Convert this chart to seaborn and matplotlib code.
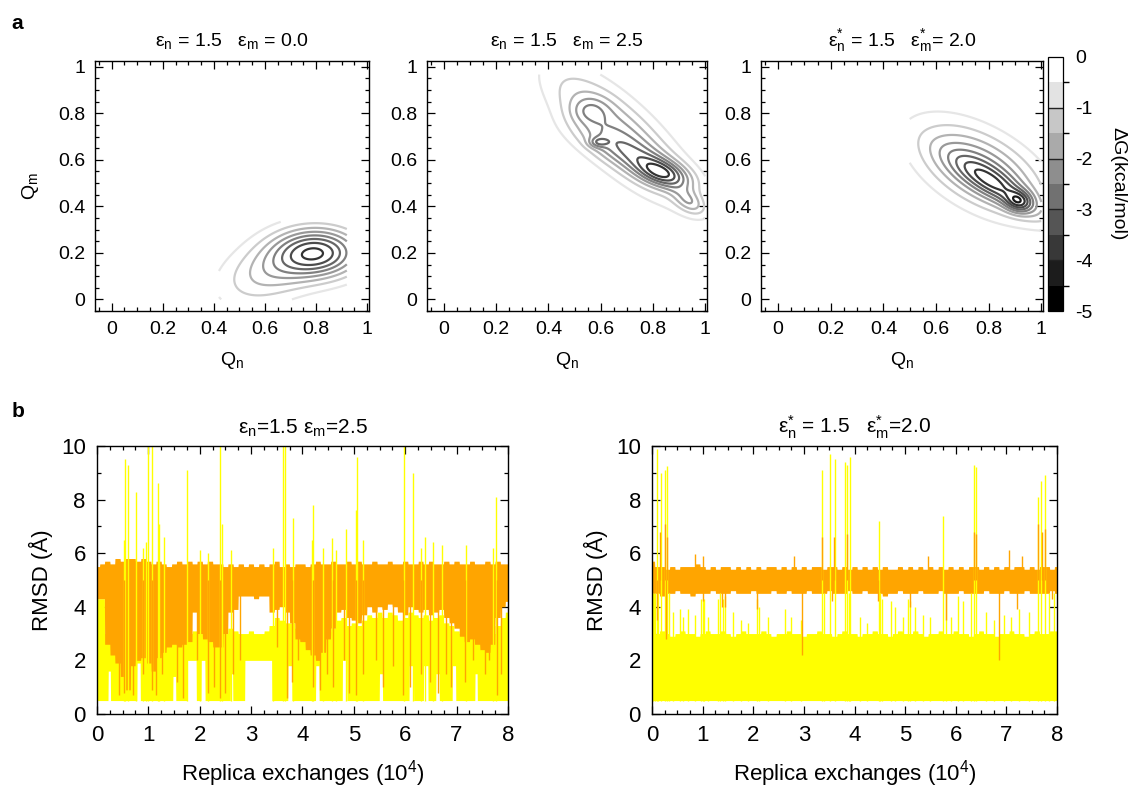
import numpy as np
import matplotlib
matplotlib.use('Agg')
import matplotlib.pyplot as plt
from matplotlib.colors import ListedColormap, BoundaryNorm, Normalize
from matplotlib.cm import ScalarMappable
from matplotlib.ticker import MultipleLocator
import seaborn as sns

sns.set_theme(style='ticks', rc={'axes.edgecolor': 'black', 'text.color': 'black',
                                 'axes.labelcolor': 'black', 'xtick.color': 'black',
                                 'ytick.color': 'black'})
plt.rcParams['font.family'] = ['Liberation Sans', 'DejaVu Sans']
plt.rcParams['mathtext.fontset'] = 'custom'
plt.rcParams['mathtext.rm'] = 'Liberation Sans'
plt.rcParams['mathtext.it'] = 'Liberation Sans:italic'

YELLOW = '#ffff00'
ORANGE = '#ffa500'

# ---------------- panel a : free energy basins (centre, depth, widths, tilt)
A_TITLES = ['ε$_\\mathregular{n}$ = 1.5   ε$_\\mathregular{m}$ = 0.0',
            'ε$_\\mathregular{n}$ = 1.5   ε$_\\mathregular{m}$ = 2.5',
            'ε$^{*}_\\mathregular{n}$ = 1.5   ε$^{*}_\\mathregular{m}$= 2.0']

b1_x = [0.81, 0.62]
b1_y = [0.20, 0.12]
b1_depth = [3.5, 1.6]
b1_sa = [0.12, 0.15]
b1_sb = [0.075, 0.09]
b1_ang = [0, 25]
b1_domain = [0.42, 0.92, 0.0, 0.335]

b2_x = [0.84, 0.94, 0.59, 0.555, 0.67, 0.70]
b2_y = [0.54, 0.42, 0.675, 0.81, 0.71, 0.63]
b2_depth = [2.4, 1.4, 1.0, 0.85, 2.3, 1.0]
b2_sa = [0.075, 0.05, 0.025, 0.05, 0.24, 0.15]
b2_sb = [0.038, 0.03, 0.015, 0.04, 0.085, 0.045]
b2_ang = [-22, -40, 0, 0, -47, -25]
b2_domain = [0.36, 1.0, 0.28, 0.97]

b3_x = [0.83, 0.915, 0.77]
b3_y = [0.49, 0.42, 0.56]
b3_depth = [1.9, 1.75, 2.6]
b3_sa = [0.14, 0.035, 0.19]
b3_sb = [0.04, 0.03, 0.10]
b3_ang = [-36, -20, -35]
b3_domain = [0.50, 1.0, 0.28, 0.82]

LINE_LEVELS = [-4.5, -4.0, -3.5, -3.0, -2.5, -2.0, -1.5, -1.0, -0.5]
CBAR_TICKS = [0, -1, -2, -3, -4, -5]

# ---------------- panel b : RMSD envelopes sampled every 0.1 (10^4 exchanges)
L_ORANGE_TOP = [5.5, 5.6, 5.7, 5.6, 5.8, 5.7, 5.8, 5.8, 5.7, 5.8,
                5.7, 5.6, 5.7, 5.6, 5.5, 5.6, 5.7, 5.6, 5.7, 5.6,
                5.7, 5.6, 5.7, 5.6, 5.6, 5.5, 5.6, 5.5, 5.6, 5.5,
                5.6, 5.5, 5.6, 5.5, 5.6, 5.7, 5.5, 5.6, 5.5, 5.6,
                5.6, 5.5, 5.6, 5.7, 5.6, 5.6, 5.7, 5.6, 5.6, 5.7,
                5.6, 5.7, 5.6, 5.6, 5.7, 5.6, 5.6, 5.7, 5.6, 5.6,
                5.7, 5.6, 5.6, 5.7, 5.6, 5.7, 5.6, 5.6, 5.7, 5.6,
                5.7, 5.6, 5.6, 5.7, 5.6, 5.6, 5.7, 5.6, 5.7, 5.6,
                5.6]
L_ORANGE_LOW = [4.3, 4.3, 2.6, 2.2, 1.9, 1.4, 0.9, 1.8, 2.0, 2.1,
                1.9, 1.6, 2.1, 2.3, 2.5, 2.6, 2.5, 2.6, 2.7, 3.8,
                3.0, 2.8, 2.7, 2.5, 2.5, 3.0, 3.8, 3.9, 4.4, 4.4,
                4.4, 4.3, 4.4, 4.4, 3.8, 3.9, 4.0, 3.8, 3.4, 2.8,
                2.7, 2.4, 2.2, 2.0, 2.3, 2.8, 3.2, 3.8, 3.9, 3.6,
                3.5, 3.4, 3.7, 4.0, 3.8, 4.0, 3.9, 4.1, 4.0, 3.8,
                3.7, 4.0, 3.9, 3.8, 3.9, 3.7, 3.8, 3.9, 3.6, 3.4,
                3.2, 2.9, 2.7, 2.8, 2.6, 2.4, 2.3, 2.6, 3.6, 4.0,
                4.2]
L_YELLOW_TOP = [4.3, 4.3, 3.0, 3.0, 3.0, 3.0, 3.0, 3.0, 3.0, 3.0,
                3.0, 3.0, 3.0, 3.0, 3.0, 3.0, 3.0, 3.0, 3.0, 3.1,
                3.0, 3.0, 3.0, 3.0, 3.0, 3.0, 3.2, 3.1, 3.0, 3.0,
                3.1, 3.0, 3.0, 3.1, 3.3, 3.6, 3.5, 3.4, 3.4, 3.2,
                3.0, 3.0, 3.0, 3.0, 3.0, 3.0, 3.2, 3.5, 3.6, 3.3,
                3.4, 3.3, 3.5, 3.7, 3.6, 3.8, 3.6, 3.8, 3.7, 3.5,
                3.6, 3.8, 3.7, 3.6, 3.7, 3.5, 3.6, 3.7, 3.4, 3.3,
                3.1, 3.0, 3.0, 3.0, 3.0, 3.0, 3.0, 3.0, 3.3, 3.6,
                3.8]
L_GAP_START = [0.22, 0.78, 1.48, 1.76, 2.03, 2.60, 2.88, 3.72, 4.26, 4.78,
               5.50, 6.08, 6.36, 6.60, 6.92, 7.36]
L_GAP_END = [0.26, 0.84, 1.53, 1.93, 2.10, 2.64, 3.40, 3.79, 4.32, 4.86,
             5.56, 6.16, 6.44, 6.66, 6.98, 7.40]
L_GAP_TOP = [1.6, 1.9, 1.4, 2.0, 2.0, 1.5, 2.0, 1.8, 1.8, 2.0,
             1.5, 1.8, 1.8, 1.5, 1.8, 1.5]
L_SPIKE_X = [0.55, 0.60, 0.76, 0.99, 1.07, 1.18, 1.21, 1.30, 1.75, 2.40,
             2.43, 3.63, 3.67, 3.82, 4.21, 4.84, 5.04, 5.07, 5.98, 6.15,
             7.77, 0.52, 0.90, 0.96, 2.00, 2.17, 2.60, 3.43, 4.18, 4.40,
             4.58, 4.66, 5.18, 6.30, 6.38, 6.55, 6.72, 7.19, 7.70]
L_SPIKE_TOP = [9.5, 9.3, 8.3, 10.0, 10.0, 8.6, 7.1, 6.6, 9.1, 10.0,
               7.1, 10.0, 10.0, 7.3, 7.8, 6.9, 7.6, 9.6, 10.0, 9.0,
               8.1, 6.5, 6.2, 6.4, 6.1, 6.0, 6.1, 6.2, 6.5, 6.2,
               6.55, 6.1, 6.5, 6.2, 6.6, 6.4, 6.3, 6.3, 6.2]
L_DIP_X = [0.42, 0.53, 0.70, 0.90, 1.08, 1.15, 1.26, 1.55, 1.67, 1.94,
           2.17, 2.27, 2.40, 2.50, 2.65, 2.78, 3.50, 3.69, 3.79, 3.92,
           4.21, 4.35, 4.47, 4.60, 4.80, 4.90, 5.04, 5.18, 5.44, 5.57,
           5.76, 5.96, 6.10, 6.30, 6.48, 6.64, 6.80, 6.90, 7.16, 7.32,
           7.55, 7.64, 7.78, 7.87]
L_DIP_LOW = [0.7, 0.8, 0.7, 1.5, 0.9, 0.7, 1.5, 1.2, 0.6, 2.0,
             0.8, 1.0, 0.6, 0.8, 1.5, 2.0, 2.5, 0.6, 1.2, 2.0,
             1.0, 0.9, 1.5, 1.0, 2.0, 0.8, 0.7, 1.5, 2.0, 1.0,
             1.8, 0.7, 1.0, 1.5, 1.2, 0.8, 1.5, 1.0, 1.2, 2.0,
             1.5, 2.0, 0.7, 1.5]

R_ORANGE_TOP = [5.7, 5.5, 5.5, 5.4, 5.5, 5.4, 5.5, 5.5, 5.5, 5.6,
                5.5, 5.4, 5.5, 5.4, 5.5, 5.5, 5.4, 5.5, 5.4, 5.5,
                5.4, 5.5, 5.4, 5.5, 5.5, 5.4, 5.5, 5.4, 5.5, 5.4,
                5.5, 5.4, 5.5, 5.5, 5.4, 5.5, 5.5, 5.4, 5.5, 5.4,
                5.5, 5.4, 5.5, 5.4, 5.5, 5.4, 5.5, 5.4, 5.4, 5.5,
                5.4, 5.5, 5.4, 5.5, 5.4, 5.5, 5.4, 5.5, 5.4, 5.5,
                5.4, 5.5, 5.4, 5.5, 5.5, 5.4, 5.5, 5.4, 5.5, 5.4,
                5.5, 5.4, 5.5, 5.5, 5.4, 5.5, 5.4, 5.5, 5.5, 5.4,
                5.5]
R_ORANGE_LOW = [4.5, 4.5, 4.4, 4.5, 4.5, 4.6, 4.5, 4.5, 4.4, 4.5,
                4.5, 4.5, 4.6, 4.5, 4.5, 4.5, 4.6, 4.5, 4.5, 4.5,
                4.6, 4.5, 4.5, 4.5, 4.6, 4.5, 4.5, 4.6, 4.5, 4.5,
                4.5, 4.6, 4.5, 4.5, 4.5, 4.6, 4.5, 4.5, 4.5, 4.6,
                4.5, 4.5, 4.6, 4.5, 4.5, 4.5, 4.4, 4.5, 4.5, 4.6,
                4.5, 4.5, 4.5, 4.6, 4.5, 4.5, 4.5, 4.6, 4.5, 4.5,
                4.5, 4.6, 4.5, 4.5, 4.5, 4.5, 4.6, 4.5, 4.5, 4.5,
                4.6, 4.5, 4.5, 4.5, 4.6, 4.5, 4.5, 4.5, 4.5, 4.6,
                4.5]
R_YELLOW_TOP = [4.5, 3.0, 3.1, 3.0, 2.9, 3.0, 3.1, 3.0, 3.0, 2.9,
                3.0, 3.1, 3.0, 3.0, 3.1, 3.0, 2.9, 3.0, 3.1, 3.0,
                3.0, 3.0, 3.1, 3.0, 2.9, 3.0, 3.0, 3.1, 3.0, 3.0,
                2.9, 3.0, 3.0, 3.1, 3.0, 3.0, 2.9, 3.0, 3.1, 3.0,
                3.0, 2.9, 3.0, 3.0, 3.1, 3.0, 3.0, 2.9, 3.0, 3.1,
                3.0, 3.0, 3.1, 3.0, 2.9, 3.0, 3.0, 3.1, 3.0, 3.0,
                3.1, 3.0, 3.0, 2.9, 3.0, 3.1, 3.0, 3.0, 2.9, 3.0,
                3.0, 3.1, 3.0, 3.0, 2.9, 3.0, 3.1, 3.0, 3.0, 3.1,
                3.1]
R_SPIKE_X = [0.09, 0.18, 0.25, 0.30, 3.36, 3.52, 3.61, 3.82, 3.85, 3.92,
             4.48, 5.75, 6.36, 6.40, 7.62, 7.68, 7.76,
             0.02, 0.05, 0.12, 0.33, 0.42, 0.55, 0.62, 0.72, 0.85, 0.97,
             1.00, 1.03, 1.10, 1.30, 1.35, 1.40, 1.45, 1.60, 1.75, 1.90,
             2.08, 2.12, 2.30, 2.62, 2.75, 2.95, 3.40, 3.90, 4.10, 4.25,
             4.50, 4.55, 4.72, 4.80, 4.95, 5.05, 5.10, 5.20, 5.35, 5.50,
             5.80, 5.90, 6.05, 6.15, 6.30, 6.60, 6.75, 6.95, 7.10, 7.25,
             7.45, 7.85, 7.95]
R_SPIKE_TOP = [9.9, 9.0, 9.1, 9.25, 9.1, 9.7, 9.5, 9.4, 9.3, 9.6,
               7.2, 7.4, 9.3, 9.2, 8.1, 8.7, 8.9,
               4.5, 4.5, 4.5, 4.5, 3.8, 3.9, 3.6, 3.9, 3.7, 4.3,
               4.3, 4.3, 3.6, 4.3, 4.5, 4.3, 4.4, 3.8, 3.5, 3.4,
               4.3, 4.0, 3.6, 3.9, 3.6, 3.5, 4.5, 4.5, 3.6, 3.4,
               4.5, 4.3, 4.2, 4.0, 3.6, 4.3, 4.2, 4.0, 3.7, 3.6,
               4.5, 3.6, 4.4, 4.2, 4.5, 3.8, 3.5, 3.7, 3.6, 3.9,
               3.8, 4.5, 4.5]
R_RISE_X = [0.15, 0.25, 0.30, 3.36, 3.60, 3.85, 6.36, 6.40, 7.62, 7.70,
            7.76, 0.85, 1.00, 2.80, 5.45, 7.05, 7.30]
R_RISE_TOP = [6.8, 7.1, 6.6, 6.6, 6.6, 6.7, 6.8, 6.7, 7.1, 6.8,
              6.9, 5.95, 5.9, 5.9, 5.9, 6.1, 5.9]
R_DIP_X = [0.27, 0.10, 1.00, 1.38, 1.45, 2.08, 2.97, 3.55, 4.47, 5.10,
           5.80, 6.85, 7.20, 7.90]
R_DIP_LOW = [2.8, 3.5, 4.2, 4.0, 4.0, 3.9, 2.2, 4.2, 4.2, 4.0,
             3.5, 2.0, 3.9, 4.3]
YELLOW_FLOOR = 0.5

B_TITLES = ['ε$_\\mathregular{n}$=1.5 ε$_\\mathregular{m}$=2.5',
            'ε$^{*}_\\mathregular{n}$ = 1.5   ε$^{*}_\\mathregular{m}$=2.0']


def landscape(QN, QM, bx, by, bd, bsa, bsb, bang):
    G = np.zeros_like(QN)
    for x0, y0, d, sa, sb, a in zip(bx, by, bd, bsa, bsb, bang):
        t = np.deg2rad(a)
        u = (QN - x0) * np.cos(t) + (QM - y0) * np.sin(t)
        v = -(QN - x0) * np.sin(t) + (QM - y0) * np.cos(t)
        G -= d * np.exp(-0.5 * (u ** 2 / sa ** 2 + v ** 2 / sb ** 2))
    return G


def style_ticks(ax, labelsize, pad):
    ax.tick_params(which='both', direction='in', top=True, right=True,
                   width=0.9, labelsize=labelsize, pad=pad)
    ax.tick_params(which='major', length=6)
    ax.tick_params(which='minor', length=3)
    for s in ax.spines.values():
        s.set_linewidth(1.0)
        s.set_color('black')


fig = plt.figure(figsize=(11.3, 7.89), dpi=100)

top_axes = [fig.add_axes([0.0841, 0.6058, 0.2425, 0.3169]),
            fig.add_axes([0.3779, 0.6058, 0.2478, 0.3169]),
            fig.add_axes([0.6735, 0.6058, 0.2496, 0.3169])]
cax = fig.add_axes([0.9274, 0.6058, 0.0133, 0.3220])
bot_axes = [fig.add_axes([0.0858, 0.0951, 0.3637, 0.3397]),
            fig.add_axes([0.5770, 0.0951, 0.3584, 0.3397])]

grid = np.linspace(0, 1, 301)
QN, QM = np.meshgrid(grid, grid)
basins = [(b1_x, b1_y, b1_depth, b1_sa, b1_sb, b1_ang, b1_domain),
          (b2_x, b2_y, b2_depth, b2_sa, b2_sb, b2_ang, b2_domain),
          (b3_x, b3_y, b3_depth, b3_sa, b3_sb, b3_ang, b3_domain)]

for i, (ax, b) in enumerate(zip(top_axes, basins)):
    G = landscape(QN, QM, *b[:6])
    n0, n1, m0, m1 = b[6]
    G = np.ma.masked_where((QN < n0) | (QN > n1) | (QM < m0) | (QM > m1), G)
    ax.contour(QN, QM, G, levels=LINE_LEVELS, cmap='gray',
               norm=Normalize(-5, 0), linewidths=1.6)
    ax.set_xlim(-0.065, 1.007)
    ax.set_ylim(-0.05, 1.025)
    ax.xaxis.set_major_locator(MultipleLocator(0.2))
    ax.xaxis.set_minor_locator(MultipleLocator(0.05))
    ax.yaxis.set_major_locator(MultipleLocator(0.2))
    ax.yaxis.set_minor_locator(MultipleLocator(0.05))
    ax.xaxis.set_major_formatter(lambda v, p: '%g' % round(v, 2))
    ax.yaxis.set_major_formatter(lambda v, p: '%g' % round(v, 2))
    style_ticks(ax, 14, 7)
    ax.set_xlabel('Q$_\\mathregular{n}$', fontsize=14, labelpad=9)
    ax.set_title(A_TITLES[i], fontsize=14, pad=11)
top_axes[0].set_ylabel('Q$_\\mathregular{m}$', fontsize=14, labelpad=12)

# colour bar
band_colors = sns.blend_palette(['black', 'white'], 10)
cmap = ListedColormap(band_colors)
norm = BoundaryNorm(np.arange(-5, 0.01, 0.5), cmap.N)
cb = fig.colorbar(ScalarMappable(norm=norm, cmap=cmap), cax=cax, ticks=CBAR_TICKS)
cb.ax.set_yticklabels([str(t) for t in CBAR_TICKS])
cb.ax.tick_params(length=0, pad=9, labelsize=14)
for v in CBAR_TICKS[1:-1]:
    cb.ax.axhline(v, color='#222222', lw=1.0)
cb.outline.set_linewidth(0.9)
cb.set_label('ΔG(kcal/mol)', rotation=270, labelpad=24, fontsize=14)

# RMSD traces
xs = np.linspace(0, 8, 1601)
idx = np.clip(np.rint(xs * 10).astype(int), 0, 80)

panels_b = [
    dict(otop=L_ORANGE_TOP, olow=L_ORANGE_LOW, ytop=L_YELLOW_TOP,
         gaps=(L_GAP_START, L_GAP_END, L_GAP_TOP),
         spikes=(L_SPIKE_X, L_SPIKE_TOP), rises=([], []),
         dips=(L_DIP_X, L_DIP_LOW)),
    dict(otop=R_ORANGE_TOP, olow=R_ORANGE_LOW, ytop=R_YELLOW_TOP,
         gaps=([], [], []),
         spikes=(R_SPIKE_X, R_SPIKE_TOP), rises=(R_RISE_X, R_RISE_TOP),
         dips=(R_DIP_X, R_DIP_LOW)),
]

for i, (ax, p) in enumerate(zip(bot_axes, panels_b)):
    ylo = np.full_like(xs, YELLOW_FLOOR)
    for s, e, t in zip(*p['gaps']):
        ylo[(xs >= s) & (xs <= e)] = t
    ax.fill_between(xs, ylo, np.asarray(p['ytop'])[idx], color=YELLOW, lw=0)
    ax.vlines(p['spikes'][0], YELLOW_FLOOR, p['spikes'][1], color=YELLOW, lw=1.0)
    ax.fill_between(xs, np.asarray(p['olow'])[idx], np.asarray(p['otop'])[idx],
                    color=ORANGE, lw=0)
    if len(p['rises'][0]):
        ax.vlines(p['rises'][0], 5.0, p['rises'][1], color=ORANGE, lw=1.0)
    ax.vlines(p['dips'][0], p['dips'][1], 5.0, color=ORANGE, lw=1.0)
    ax.set_xlim(0, 8)
    ax.set_ylim(0, 10)
    ax.xaxis.set_major_locator(MultipleLocator(1))
    ax.xaxis.set_minor_locator(MultipleLocator(0.25))
    ax.yaxis.set_major_locator(MultipleLocator(2))
    ax.yaxis.set_minor_locator(MultipleLocator(1))
    style_ticks(ax, 16, 8)
    ax.set_xlabel('Replica exchanges (10$^4$)', fontsize=16, labelpad=9)
    ax.set_ylabel('RMSD (Å)', fontsize=16, labelpad=6)
    ax.set_title(B_TITLES[i], fontsize=15, pad=9)

fig.text(0.010, 0.963, 'a', fontsize=15, fontweight='bold')
fig.text(0.010, 0.472, 'b', fontsize=15, fontweight='bold')

fig.savefig('out.png', dpi=100)
